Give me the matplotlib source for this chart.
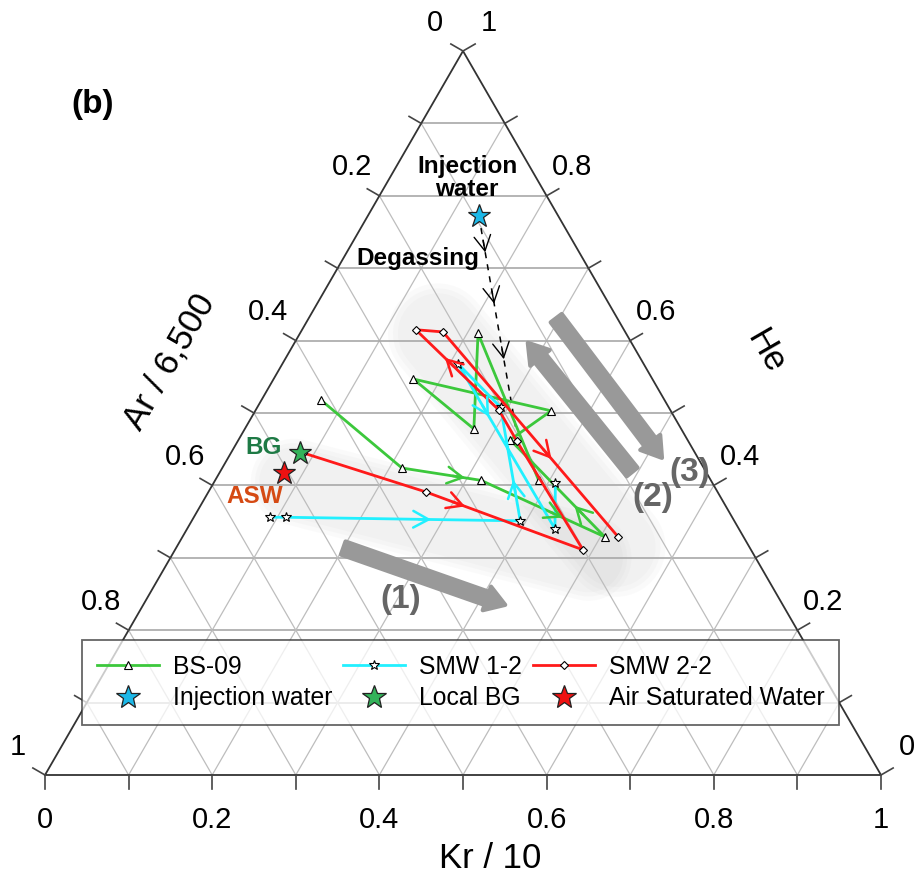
import numpy as np
import matplotlib.pyplot as plt
from matplotlib.lines import Line2D
from matplotlib.patches import FancyArrowPatch

plt.rcParams['font.family'] = ['Liberation Sans', 'DejaVu Sans']

H = np.sqrt(3) / 2

# normalised ternary values: Kr/10 and He (Ar/6,500 = 1 - Kr - He)
bs09_kr = [0.071, 0.215, 0.318, 0.505, 0.325, 0.354, 0.167, 0.274, 0.213, 0.387]
bs09_he = [0.518, 0.424, 0.407, 0.329, 0.463, 0.503, 0.547, 0.478, 0.610, 0.407]
smw12_kr = [0.091, 0.110, 0.393, 0.291, 0.210, 0.440, 0.409]
smw12_he = [0.356, 0.356, 0.351, 0.508, 0.568, 0.340, 0.403]
smw22_kr = [0.086, 0.260, 0.488, 0.334, 0.291, 0.136, 0.170, 0.521]
smw22_he = [0.445, 0.391, 0.311, 0.461, 0.504, 0.615, 0.612, 0.329]

inj_kr, inj_he = 0.133, 0.772
bg_kr, bg_he = 0.082, 0.445
asw_kr, asw_he = 0.077, 0.417
degas_kr = [0.133, 0.325]
degas_he = [0.772, 0.477]

# (segment index, fraction along segment) for the direction arrows
bs09_arrows = [(1, 0.8), (2, 0.66), (3, 0.32)]
smw12_arrows = [(1, 0.62), (2, 0.36), (4, 0.32)]
smw22_arrows = [(1, 0.25), (4, 0.65), (6, 0.62)]
degas_arrows = [0.17, 0.41, 0.67]

tick_vals = np.round(np.arange(0, 1.01, 0.1), 1)
label_vals = [0, 0.2, 0.4, 0.6, 0.8, 1]
tick_text = ['0', '0.2', '0.4', '0.6', '0.8', '1']

legend_labels = ['BS-09', 'Injection water', 'SMW 1-2', 'Local BG',
                 'SMW 2-2', 'Air Saturated Water']

green = '#3cc83c'
cyan = '#22f0ff'
red = '#ff1a1a'
inj_color = '#1cb8e8'
bg_color = '#33b35a'
asw_color = '#ee1111'
arrow_gray = '#999999'


def to_xy(kr, he):
    kr = np.asarray(kr, dtype=float)
    he = np.asarray(he, dtype=float)
    return kr + he / 2, he * H


fig = plt.figure(figsize=(9.19, 8.9), dpi=100)
ax = fig.add_axes([0, 0, 1, 1])
ax.set_xlim(-45 / 836, 874 / 836)
ax.set_ylim(-115 / 836, 775 / 836)
ax.axis('off')

# soft shaded zones behind the data
for (k0, h0), (k1, h1), w in [((0.095, 0.405), (0.500, 0.300), 62),
                              ((0.165, 0.610), (0.525, 0.315), 72)]:
    bx, by = to_xy([k0, k1], [h0, h1])
    for f in [1.0, 0.9, 0.8]:
        ax.plot(bx, by, color='#9a9a9a', alpha=0.045, lw=w * f,
                solid_capstyle='round', zorder=1)

# grid
for t in tick_vals[1:-1]:
    gx, gy = to_xy([0, 1 - t], [t, t])
    ax.plot(gx, gy, color='#a8a8a8', lw=1.2, zorder=2)
    gx, gy = to_xy([t, t], [0, 1 - t])
    ax.plot(gx, gy, color='#bdbdbd', lw=0.9, zorder=2)
    gx, gy = to_xy([1 - t, 0], [0, 1 - t])
    ax.plot(gx, gy, color='#bdbdbd', lw=0.9, zorder=2)

# outline
ox, oy = to_xy([0, 1, 0, 0], [0, 0, 1, 0])
ax.plot(ox, oy, color='#333333', lw=1.3, zorder=3, solid_joinstyle='miter')

# ticks and tick labels
tl = 14 / 836
for t in tick_vals:
    x, y = to_xy(t, 0)
    ax.plot([x, x], [y, y - tl], color='#444444', lw=1.2, zorder=3)
    x, y = to_xy(0, 1 - t)
    ax.plot([x, x - tl * H], [y, y + tl / 2], color='#444444', lw=1.2, zorder=3)
    x, y = to_xy(1 - t, t)
    ax.plot([x, x + tl * H], [y, y + tl / 2], color='#444444', lw=1.2, zorder=3)

for v, s in zip(label_vals, tick_text):
    x, y = to_xy(v, 0)
    ax.text(x, y - 0.054, s, fontsize=21, ha='center', va='center')
    x, y = to_xy(0, 1 - v)
    ax.text(x - 0.033, y + 0.034, s, fontsize=21, ha='center', va='center')
    x, y = to_xy(1 - v, v)
    ax.text(x + 0.031, y + 0.034, s, fontsize=21, ha='center', va='center')

fig.text(490 / 919, 1 - 858 / 890, 'Kr / 10', fontsize=25, ha='center', va='center')
fig.text(170 / 919, 1 - 362 / 890, 'Ar / 6,500', fontsize=25, ha='center',
         va='center', rotation=60)
fig.text(765 / 919, 1 - 352 / 890, 'He', fontsize=25, ha='center',
         va='center', rotation=-60)
fig.text(93 / 919, 1 - 105 / 890, '(b)', fontsize=24, fontweight='bold',
         ha='center', va='center')

# big gray trend arrows
for (k0, h0), (k1, h1) in [((0.200, 0.3135), (0.433, 0.235)),
                           ((0.493, 0.4185), (0.279, 0.597)),
                           ((0.296, 0.631), (0.519, 0.438))]:
    a = to_xy(k0, h0)
    b = to_xy(k1, h1)
    ax.add_patch(FancyArrowPatch(a, b, arrowstyle='simple,head_length=1.4,head_width=1.8,tail_width=1.0',
                                 mutation_scale=10, color=arrow_gray, lw=3,
                                 joinstyle='round', shrinkA=0, shrinkB=0, zorder=4))

for s, k, h in [('(1)', 0.304, 0.242), ('(2)', 0.535, 0.383), ('(3)', 0.562, 0.4185)]:
    x, y = to_xy(k, h)
    ax.text(x, y, s, fontsize=24, fontweight='bold', color='#666666',
            ha='center', va='center', zorder=4)


def seg_arrow(x, y, i, f, color, lw=1.8):
    dx, dy = x[i + 1] - x[i], y[i + 1] - y[i]
    n = np.hypot(dx, dy)
    px, py = x[i] + f * dx, y[i] + f * dy
    ax.annotate('', xy=(px, py), xytext=(px - dx / n * 0.015, py - dy / n * 0.015),
                arrowprops=dict(arrowstyle='->,head_length=0.55,head_width=0.3',
                                color=color, lw=lw, shrinkA=0, shrinkB=0,
                                mutation_scale=20), zorder=6)


# degassing path
dx_, dy_ = to_xy(degas_kr, degas_he)
ax.plot(dx_, dy_, color='black', lw=1.1, ls=(0, (4, 4)), zorder=5)
for f in degas_arrows:
    seg_arrow(dx_, dy_, 0, f, 'black', lw=1.0)

series = [
    (bs09_kr, bs09_he, green, '^', 5.5, bs09_arrows),
    (smw12_kr, smw12_he, cyan, '*', 7, smw12_arrows),
    (smw22_kr, smw22_he, red, 'D', 4, smw22_arrows),
]
for kr, he, c, m, ms, arrows in series:
    x, y = to_xy(kr, he)
    ax.plot(x, y, color=c, lw=2.0, marker=m, ms=ms, mfc='white', mec='black',
            mew=0.8, zorder=5)
    for i, f in arrows:
        seg_arrow(x, y, i, f, c)

for k, h, c in [(inj_kr, inj_he, inj_color), (bg_kr, bg_he, bg_color),
                (asw_kr, asw_he, asw_color)]:
    x, y = to_xy(k, h)
    ax.plot(x, y, ls='none', marker='*', ms=17, mfc=c, mec='#222222', mew=0.9, zorder=7)

x, y = to_xy(0.0925, 0.8246)
ax.text(x, y, 'Injection\nwater', fontsize=17.5, fontweight='bold', ha='center',
        va='center', linespacing=1.05, zorder=6)
x, y = to_xy(0.089, 0.714)
ax.text(x, y, 'Degassing', fontsize=17.5, fontweight='bold', ha='center', va='center', zorder=6)
x, y = to_xy(0.036, 0.4517)
ax.text(x, y, 'BG', fontsize=17.5, fontweight='bold', color='#1e7a45',
        ha='center', va='center', zorder=6)
x, y = to_xy(0.059, 0.384)
ax.text(x, y, 'ASW', fontsize=17.5, fontweight='bold', color='#d54a14',
        ha='center', va='center', zorder=6)

handles = [
    Line2D([], [], color=green, lw=2, marker='^', ms=5.5, mfc='white', mec='black', mew=0.8),
    Line2D([], [], ls='none', marker='*', ms=18, mfc=inj_color, mec='#222222', mew=0.9),
    Line2D([], [], color=cyan, lw=2, marker='*', ms=7, mfc='white', mec='black', mew=0.8),
    Line2D([], [], ls='none', marker='*', ms=18, mfc=bg_color, mec='#222222', mew=0.9),
    Line2D([], [], color=red, lw=2, marker='D', ms=4, mfc='white', mec='black', mew=0.8),
    Line2D([], [], ls='none', marker='*', ms=18, mfc=asw_color, mec='#222222', mew=0.9),
]
leg = ax.legend(handles, legend_labels, ncol=3, loc='upper left',
                bbox_to_anchor=(82 / 919, 1 - 640 / 890), borderaxespad=0,
                fontsize=17.8, frameon=True, fancybox=False, edgecolor='#333333',
                framealpha=0.75, handlelength=2.5, handletextpad=0.57,
                columnspacing=0.45, borderpad=0.6, labelspacing=0.3)
leg.get_frame().set_linewidth(1.3)
leg.set_zorder(10)

fig.savefig('out.png', dpi=100)
